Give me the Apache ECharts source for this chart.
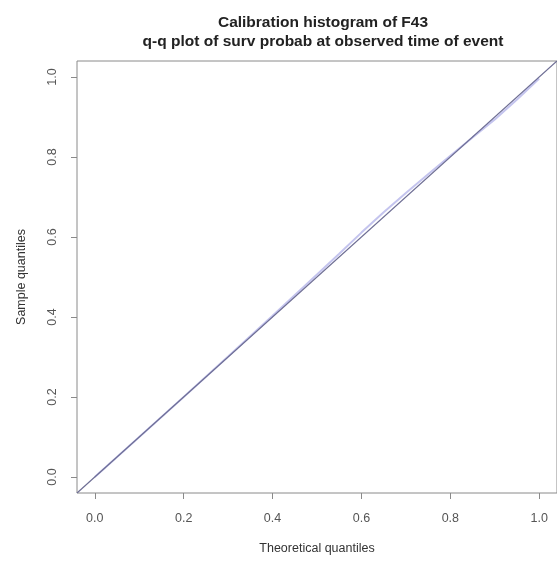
<!DOCTYPE html>
<html>
<head>
<meta charset="utf-8">
<script src="https://cdn.jsdelivr.net/npm/echarts@6/dist/echarts.min.js"></script>
<style>
html,body{margin:0;padding:0;background:#fff;}
#c{width:557px;height:562px;}
</style>
</head>
<body>
<div id="c"></div>
<script>
const titleLines = ["Calibration histogram of F43", "q-q plot of surv probab at observed time of event"];
const xAxisName = "Theoretical quantiles";
const yAxisName = "Sample quantiles";
const tickValues = [0, 0.2, 0.4, 0.6, 0.8, 1.0];
const theoretical = [0, 0.05, 0.1, 0.2, 0.3, 0.4, 0.5, 0.55, 0.6, 0.65, 0.7, 0.75, 0.8, 0.85, 0.9, 0.95, 1.0];
const sample =      [0, 0.05, 0.1, 0.2, 0.301, 0.403, 0.506, 0.558, 0.611, 0.662, 0.71, 0.757, 0.803, 0.849, 0.894, 0.944, 0.996];
const refLine = [[-0.04, -0.04], [1.04, 1.04]];

const chart = echarts.init(document.getElementById('c'), null, {renderer: 'canvas'});
const font = 'Liberation Sans, Arial, sans-serif';
chart.setOption({
  animation: false,
  backgroundColor: '#fff',
  title: {
    text: titleLines.join('\n'),
    left: 318, top: 8, textAlign: 'center',
    textStyle: {fontFamily: font, fontWeight: 'bold', fontSize: 15.5, color: '#222', lineHeight: 19}
  },
  grid: {left: 77, top: 61, width: 483, height: 432, show: true, borderColor: '#8a8a8a', borderWidth: 1, backgroundColor: 'transparent', containLabel: false},
  xAxis: {
    type: 'value', min: -0.04, max: 1.04,
    name: xAxisName, nameLocation: 'middle', nameGap: 49,
    nameTextStyle: {fontFamily: font, fontSize: 12.5, color: '#333'},
    axisLine: {show: false, onZero: false},
    splitLine: {show: false},
    axisTick: {show: true, inside: false, length: 6, lineStyle: {color: '#8a8a8a'}, customValues: tickValues},
    axisLabel: {customValues: tickValues, margin: 19, fontFamily: font, fontSize: 12.5, color: '#555', formatter: v => v.toFixed(1)}
  },
  yAxis: {
    type: 'value', min: -0.04, max: 1.04,
    name: yAxisName, nameLocation: 'middle', nameGap: 49, nameRotate: 90,
    nameTextStyle: {fontFamily: font, fontSize: 12.5, color: '#333'},
    axisLine: {show: false, onZero: false},
    splitLine: {show: false},
    axisTick: {show: true, inside: false, length: 6, lineStyle: {color: '#8a8a8a'}, customValues: tickValues},
    axisLabel: {customValues: tickValues, rotate: 90, margin: 18, fontFamily: font, fontSize: 12.5, color: '#555', formatter: v => v.toFixed(1)}
  },
  series: [
    {
      type: 'line', data: theoretical.map((t, i) => [t, sample[i]]),
      showSymbol: false, symbol: 'none', clip: true,
      lineStyle: {color: '#c4c4ee', width: 2}
    },
    {
      type: 'line', data: refLine, showSymbol: false, symbol: 'none', clip: true,
      lineStyle: {color: '#6e6e94', width: 1.2}
    }
  ]
});
</script>
</body>
</html>
